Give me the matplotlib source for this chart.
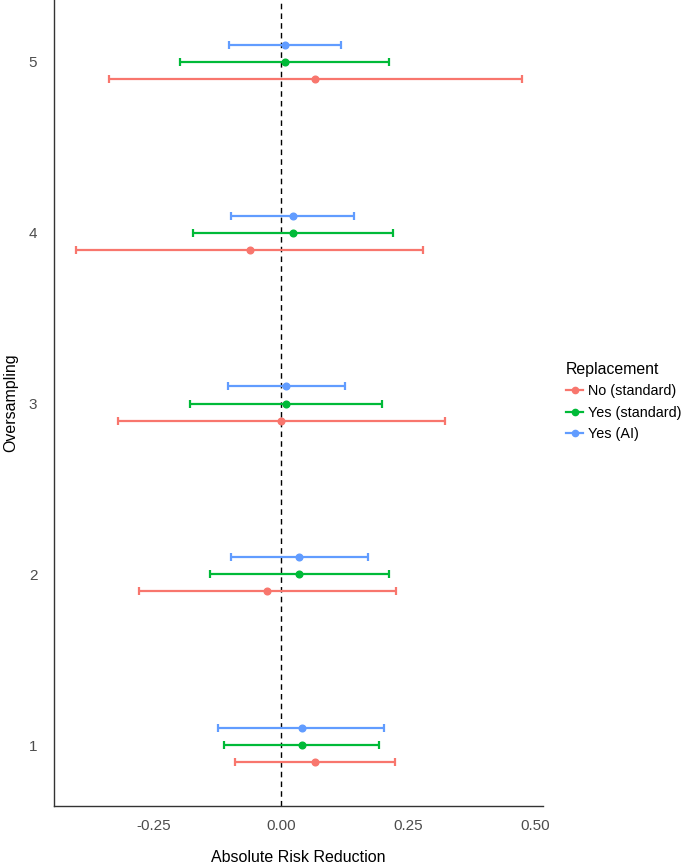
import matplotlib
matplotlib.use("Agg")
import matplotlib.pyplot as plt
from matplotlib.lines import Line2D
import numpy as np

plt.rcParams['font.family'] = ['Liberation Sans', 'DejaVu Sans']

oversampling = [1, 2, 3, 4, 5]
groups = ["No (standard)", "Yes (standard)", "Yes (AI)"]
colors = ["#F8766D", "#00BA38", "#619CFF"]

est_no_std = [0.067, -0.026, 0.001, -0.061, 0.067]
lo_no_std = [-0.090, -0.279, -0.321, -0.402, -0.338]
hi_no_std = [0.225, 0.227, 0.323, 0.280, 0.474]

est_yes_std = [0.041, 0.036, 0.011, 0.024, 0.009]
lo_yes_std = [-0.112, -0.139, -0.179, -0.173, -0.198]
hi_yes_std = [0.193, 0.213, 0.200, 0.221, 0.214]

est_yes_ai = [0.041, 0.036, 0.011, 0.024, 0.009]
lo_yes_ai = [-0.123, -0.098, -0.104, -0.097, -0.101]
hi_yes_ai = [0.204, 0.171, 0.127, 0.144, 0.118]

series = [
    (est_no_std, lo_no_std, hi_no_std),
    (est_yes_std, lo_yes_std, hi_yes_std),
    (est_yes_ai, lo_yes_ai, hi_yes_ai),
]
dodge = [-0.1, 0.0, 0.1]

W, H = 685, 864
fig = plt.figure(figsize=(W / 100, H / 100), dpi=100)
ax = fig.add_axes([54 / W, 58 / H, (543 - 54) / W, 806 / H])

ax.axvline(0, color="black", linestyle=(0, (4, 3)), linewidth=1.0, zorder=1)

for (est, lo, hi), col, dd in zip(series, colors, dodge):
    est = np.array(est)
    lo = np.array(lo)
    hi = np.array(hi)
    y = np.array(oversampling) + dd
    ax.errorbar(est, y, xerr=[est - lo, hi - est], fmt="o", color=col,
                ecolor=col, elinewidth=1.6, capsize=2.6, capthick=1.6,
                markersize=4.8, zorder=3)

ax.set_xlim(-0.446, 0.516)
ax.set_ylim(0.643, 5.363)
ax.set_xticks([-0.25, 0.0, 0.25, 0.5])
ax.set_xticklabels(["-0.25", "0.00", "0.25", "0.50"])
ax.set_yticks(oversampling)
ax.set_yticklabels([str(v) for v in oversampling])
ax.tick_params(axis="both", length=0, labelsize=11, labelcolor="#4D4D4D")
ax.tick_params(axis="x", pad=9)
ax.tick_params(axis="y", pad=12)

for s in ["top", "right"]:
    ax.spines[s].set_visible(False)
for s in ["left", "bottom"]:
    ax.spines[s].set_color("#333333")
    ax.spines[s].set_linewidth(1.0)

fig.text(298.5 / W, 1 - 857 / H, "Absolute Risk Reduction", fontsize=11.5,
         ha="center", va="center")
fig.text(11 / W, 1 - 403 / H, "Oversampling", fontsize=11.5,
         ha="center", va="center", rotation=90)

handles = [Line2D([0], [0], color=c, marker="o", markersize=4.5, linewidth=1.6)
           for c in colors]
leg = fig.legend(handles, groups, title="Replacement", loc="upper left",
                 bbox_to_anchor=(556 / W, 1 - 352 / H), frameon=False,
                 fontsize=10.4, title_fontsize=11.4, handlelength=1.2,
                 handletextpad=0.35, labelspacing=0.5, borderpad=0.2)
leg._legend_box.align = "left"

fig.savefig("out.png", dpi=100)
